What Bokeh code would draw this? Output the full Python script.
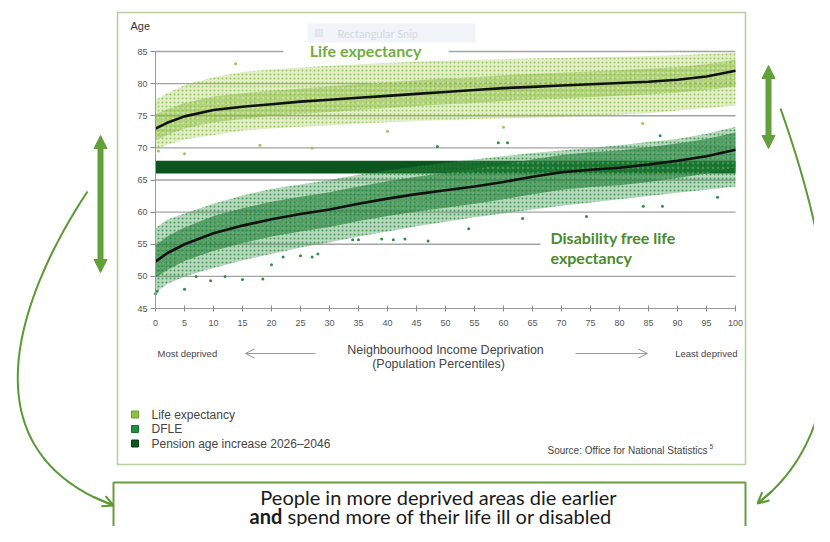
from bokeh.plotting import figure
from bokeh.models import (Range1d, Label, Arrow, NormalHead, OpenHead, PolyAnnotation,
                          BoxAnnotation, FixedTicker, ColumnDataSource, LinearAxis)
from bokeh.embed import file_html
from bokeh.resources import INLINE

# ---------------- data ----------------
pct = [0, 2, 5, 10, 15, 20, 25, 30, 35, 40, 45, 50, 55, 60, 65, 70, 75, 80, 85, 90, 95, 100]

# Life expectancy: fitted trend and spread of the scatter cloud
le_trend = [73.0, 73.9, 74.9, 75.9, 76.4, 76.8, 77.2, 77.5, 77.8, 78.1, 78.4, 78.7,
            79.0, 79.3, 79.5, 79.7, 79.9, 80.1, 80.3, 80.6, 81.1, 82.0]
le_outer_low = [69.8, 70.5, 71.3, 72.0, 72.7, 73.0, 73.3, 73.5, 73.8, 74.0, 74.2, 74.3,
                74.5, 74.6, 74.7, 74.8, 75.0, 75.2, 75.4, 75.8, 76.2, 76.6]
le_outer_high = [77.5, 78.5, 79.8, 81.0, 81.8, 82.2, 82.5, 82.8, 83.0, 83.2, 83.4, 83.6,
                 83.7, 83.8, 83.9, 84.0, 84.1, 84.2, 84.3, 84.4, 84.6, 84.8]
le_core_low = [71.2, 72.0, 73.0, 74.0, 74.5, 75.0, 75.3, 75.6, 75.9, 76.2, 76.5, 76.8,
               77.0, 77.3, 77.5, 77.7, 77.9, 78.1, 78.3, 78.6, 79.0, 79.6]
le_core_high = [75.2, 76.0, 77.0, 78.0, 78.5, 78.9, 79.2, 79.6, 79.9, 80.2, 80.5, 80.8,
                81.0, 81.3, 81.5, 81.7, 81.9, 82.1, 82.3, 82.6, 83.0, 83.7]

# Disability free life expectancy (DFLE)
dfle_trend = [52.3, 53.6, 55.0, 56.7, 57.9, 58.9, 59.7, 60.4, 61.3, 62.1, 62.8, 63.4,
              64.0, 64.7, 65.5, 66.2, 66.6, 66.9, 67.4, 68.0, 68.7, 69.7]
dfle_outer_low = [47.5, 48.8, 50.0, 51.3, 52.5, 53.5, 54.5, 55.3, 56.2, 57.0, 57.8, 58.5,
                  59.2, 59.8, 60.4, 61.0, 61.5, 62.0, 62.5, 63.0, 63.5, 64.0]
dfle_outer_high = [57.5, 58.8, 59.8, 61.3, 62.6, 63.6, 64.3, 65.0, 65.8, 66.5, 67.1, 67.7,
                   68.2, 68.7, 69.2, 69.6, 70.0, 70.4, 70.9, 71.4, 72.2, 73.3]
dfle_core_low = [49.8, 51.0, 52.4, 54.0, 55.2, 56.2, 57.0, 57.7, 58.6, 59.4, 60.1, 60.7,
                 61.3, 62.0, 62.8, 63.5, 63.9, 64.2, 64.7, 65.3, 66.0, 67.0]
dfle_core_high = [54.8, 56.2, 57.6, 59.4, 60.6, 61.6, 62.4, 63.1, 64.0, 64.8, 65.5, 66.1,
                  66.7, 67.4, 68.2, 68.9, 69.3, 69.6, 70.1, 70.7, 71.4, 72.4]

# isolated outlying points
le_out_x = [0.5, 5.0, 13.8, 18.0, 27.0, 40.0, 60.0, 84.0]
le_out_y = [69.5, 69.1, 83.1, 70.4, 70.0, 72.6, 73.2, 73.8]
dfle_out_x = [0.0, 0.3, 5.0, 7.0, 9.5, 12.0, 15.0, 18.5, 20.0, 22.0, 25.0, 27.0, 28.0,
              34.0, 35.0, 39.0, 41.0, 43.0, 47.0, 54.0, 63.3, 74.3, 84.1, 87.4, 96.9,
              48.6, 59.1, 60.7, 87.0]
dfle_out_y = [47.3, 47.7, 48.0, 50.0, 49.3, 50.0, 49.5, 49.6, 51.8, 53.0, 53.2, 53.0, 53.5,
              55.7, 55.7, 55.8, 55.7, 55.8, 55.5, 57.4, 59.0, 59.3, 60.9, 60.9, 62.3,
              70.2, 70.8, 70.8, 71.9]

# pension age increase 2026-2046
pension_from = [66]
pension_to = [68]

y_ticks = [45, 50, 55, 60, 65, 70, 75, 80, 85]
x_ticks = list(range(0, 101, 5))

# ---------------- helpers: picture pixel -> data ----------------
FX0, FX1, FY0, FY1 = 155.0, 735.0, 51.0, 308.0
W, H = 814, 526


def X(px):
    return (px - FX0) / (FX1 - FX0) * 100.0


def Y(py):
    return 85.0 - (py - FY0) / (FY1 - FY0) * 40.0


C_LE = "#9cc84a"
C_LE_CORE = "#86b83a"
C_DF = "#2f8f40"
C_DF_CORE = "#1a7a33"
C_PEN = "#0b561f"
C_ARROW = "#62a03c"

p = figure(width=W, height=H, output_backend="svg", toolbar_location=None,
           x_range=Range1d(X(0), X(W)), y_range=Range1d(Y(H), Y(0)),
           x_axis_location=None, y_axis_location=None, min_border=0,
           background_fill_color="white", border_fill_color="white")
p.outline_line_color = None
p.xgrid.visible = False
p.ygrid.visible = False

# axes placed at fixed data locations
xax = LinearAxis(fixed_location=45, ticker=FixedTicker(ticks=x_ticks), bounds=(0, 100))
yax = LinearAxis(fixed_location=0, ticker=FixedTicker(ticks=y_ticks), bounds=(45, 85))
for ax in (xax, yax):
    ax.axis_line_color = "#9a9a9a"
    ax.major_tick_line_color = "#8a8a8a"
    ax.minor_tick_line_color = None
    ax.major_label_text_font = "Liberation Sans"
    ax.major_label_text_font_size = "9px"
    ax.major_label_text_color = "#555555"
yax.major_tick_in = 0
yax.major_tick_out = 5
yax.major_label_standoff = 3
xax.major_tick_in = 3
xax.major_tick_out = 3
xax.major_label_standoff = 8
p.add_layout(xax, "below")
p.add_layout(yax, "left")

# horizontal grid lines
grid_y = [t for t in y_ticks if t > 45]
p.segment(x0=[0] * len(grid_y), x1=[100] * len(grid_y), y0=grid_y, y1=grid_y,
          line_color="#a3a3a3", line_width=1.3)

# pension band
p.quad(left=[0], right=[100], bottom=pension_from, top=pension_to,
       fill_color=C_PEN, line_color=None)

src = ColumnDataSource(dict(x=pct, le_t=le_trend, le_ol=le_outer_low, le_oh=le_outer_high,
                            le_cl=le_core_low, le_ch=le_core_high,
                            df_t=dfle_trend, df_ol=dfle_outer_low, df_oh=dfle_outer_high,
                            df_cl=dfle_core_low, df_ch=dfle_core_high))

# scatter clouds (spread)
p.varea(x="x", y1="le_ol", y2="le_oh", source=src, fill_color=C_LE, fill_alpha=0.3,
        hatch_pattern="dot", hatch_color="#7fb533", hatch_scale=4, hatch_alpha=0.7)
p.varea(x="x", y1="le_cl", y2="le_ch", source=src, fill_color=C_LE_CORE, fill_alpha=0.5,
        hatch_pattern="dot", hatch_color="#d2e8a8", hatch_scale=5, hatch_alpha=0.7)
p.varea(x="x", y1="df_ol", y2="df_oh", source=src, fill_color=C_DF, fill_alpha=0.35,
        hatch_pattern="dot", hatch_color="#1f7d34", hatch_scale=4, hatch_alpha=0.7)
p.varea(x="x", y1="df_cl", y2="df_ch", source=src, fill_color=C_DF_CORE, fill_alpha=0.6,
        hatch_pattern="dot", hatch_color="#6fb77a", hatch_scale=5, hatch_alpha=0.5)

p.scatter(le_out_x, le_out_y, size=3, color=C_LE, line_color=None)
p.scatter(dfle_out_x, dfle_out_y, size=3, color=C_DF, line_color=None)

# trend lines
p.line(x="x", y="le_t", source=src, line_color="#111111", line_width=2.6)
p.line(x="x", y="df_t", source=src, line_color="#111111", line_width=2.6)

# white boxes that cut the grid lines for the headings
p.add_layout(BoxAnnotation(left=X(283), right=X(448), bottom=Y(60), top=Y(38),
                           fill_color="white", fill_alpha=1, line_color=None))
p.add_layout(BoxAnnotation(left=X(540), right=X(737), bottom=Y(268), top=Y(226),
                           fill_color="white", fill_alpha=1, line_color=None))

p.add_layout(Label(x=X(365), y=Y(50), text="Life expectancy", text_align="center",
                   text_baseline="middle", text_font="Lato", text_font_style="bold",
                   text_font_size="16px", text_color="#6fae3f"))
p.add_layout(Label(x=X(550), y=Y(237), text="Disability free life", text_align="left",
                   text_baseline="middle", text_font="Lato", text_font_style="bold",
                   text_font_size="16px", text_color="#4a8a2c"))
p.add_layout(Label(x=X(550), y=Y(257), text="expectancy", text_align="left",
                   text_baseline="middle", text_font="Lato", text_font_style="bold",
                   text_font_size="16px", text_color="#4a8a2c"))


def poly(pts, color, width):
    xs = [X(a) for a, b in pts]
    ys = [Y(b) for a, b in pts]
    xs = xs + xs[::-1]
    ys = ys + ys[::-1]
    p.add_layout(PolyAnnotation(xs=xs, ys=ys, fill_alpha=0, line_color=color,
                                line_alpha=1, line_width=width))


def rect(x0, y0, x1, y1, color, width, fill=None):
    pts = [(x0, y0), (x1, y0), (x1, y1), (x0, y1)]
    xs = [X(a) for a, b in pts]
    ys = [Y(b) for a, b in pts]
    p.add_layout(PolyAnnotation(xs=xs, ys=ys, fill_color=fill if fill else "white",
                                fill_alpha=1 if fill else 0, line_alpha=1,
                                line_color=color, line_width=width))


def lab(px, py, text, size="9px", color="#444444", align="left", font="Liberation Sans",
        style="normal"):
    p.add_layout(Label(x=X(px), y=Y(py), text=text, text_align=align,
                       text_baseline="middle", text_font=font, text_font_size=size,
                       text_color=color, text_font_style=style))


# outer frames
rect(117, 12, 745, 464, "#b8cfa0", 1.6)
rect(113, 482, 745, 560, "#6a9b3e", 2)

# "Rectangular Snip" artefact
rect(307, 23, 475, 42, None, 0, fill="#f1f4f8")
rect(315, 29, 322, 36, "#dde3ea", 1, fill="#e3e8ee")
lab(337, 33, "Rectangular Snip", size="11px", color="#d3d9e2", font="Lato")

lab(130, 25, "Age", size="11px", color="#333333")

# axis description
lab(445, 349, "Neighbourhood Income Deprivation", size="12.5px", color="#444444",
    align="center")
lab(438, 363, "(Population Percentiles)", size="12.5px", color="#444444", align="center")
lab(157, 353, "Most deprived", size="9.5px", color="#444444")
lab(737, 353, "Least deprived", size="9.5px", color="#444444", align="right")
p.add_layout(Arrow(end=OpenHead(size=9, line_color="#999999", line_width=1),
                   x_start=X(315), y_start=Y(353), x_end=X(245), y_end=Y(353),
                   line_color="#999999", line_width=1))
p.add_layout(Arrow(end=OpenHead(size=9, line_color="#999999", line_width=1),
                   x_start=X(575), y_start=Y(353), x_end=X(647), y_end=Y(353),
                   line_color="#999999", line_width=1))

# legend
leg = [("Life expectancy", "#8fc33f", "#6f9e2c"), ("DFLE", "#1f8f3f", "#15702f"),
       ("Pension age increase 2026\u20132046", C_PEN, "#063d14")]
for i, (name, fc, lc) in enumerate(leg):
    yy = 414 + i * 14.5
    rect(131, yy - 3.5, 138, yy + 3.5, lc, 1, fill=fc)
    lab(151, yy, name, size="12px", color="#444444")

lab(547, 450, "Source: Office for National Statistics", size="10px", color="#444444")
lab(709, 446, "5", size="6.5px", color="#444444")

# double arrows
for xx, y0, y1 in [(100, 135, 272), (768, 65, 148)]:
    p.add_layout(Arrow(start=NormalHead(size=13, fill_color=C_ARROW, line_color=C_ARROW),
                       end=NormalHead(size=13, fill_color=C_ARROW, line_color=C_ARROW),
                       x_start=X(xx), y_start=Y(y0), x_end=X(xx), y_end=Y(y1),
                       line_color=C_ARROW, line_width=6))


def bez(p0, p1, p2, p3, n=60):
    out = []
    for i in range(n + 1):
        t = i / n
        a, b, c, d = (1 - t) ** 3, 3 * (1 - t) ** 2 * t, 3 * (1 - t) * t ** 2, t ** 3
        out.append((a * p0[0] + b * p1[0] + c * p2[0] + d * p3[0],
                    a * p0[1] + b * p1[1] + c * p2[1] + d * p3[1]))
    return out


C_CURVE = "#5a9a36"
for ctrl in [((87, 191), (15, 300), (-35, 450), (113, 505)),
             ((780, 108), (830, 250), (865, 420), (757, 503))]:
    pts = bez(*ctrl)
    poly(pts, C_CURVE, 2)
    (sx, sy), (ex, ey) = pts[-4], pts[-1]
    p.add_layout(Arrow(end=OpenHead(size=11, line_color=C_CURVE, line_width=2),
                       x_start=X(sx), y_start=Y(sy), x_end=X(ex), y_end=Y(ey),
                       line_color=C_CURVE, line_width=2))

# message box text
lab(438, 496, "People in more deprived areas die earlier", size="20px", color="#1a1a1a",
    font="Lato", align="center")
lab(249, 515, "and", size="20px", color="#1a1a1a", font="Lato", style="bold")
lab(287, 515, "spend more of their life ill or disabled", size="20px", color="#1a1a1a",
    font="Lato")

open("out.html", "w").write(file_html(p, INLINE))
